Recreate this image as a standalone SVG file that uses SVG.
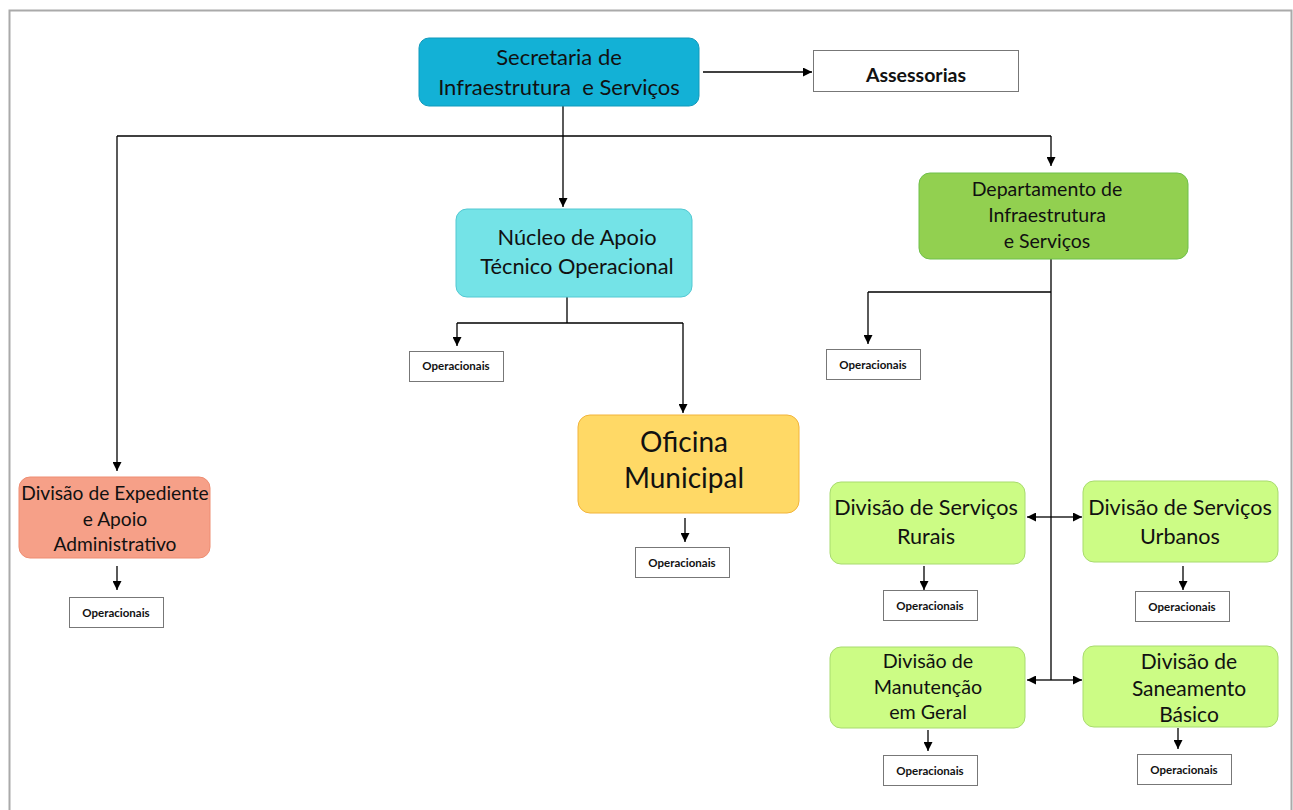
<svg xmlns="http://www.w3.org/2000/svg" width="1293" height="810" viewBox="0 0 1293 810">
<defs>
<marker id="ah" viewBox="0 0 10 10" refX="10" refY="5" markerWidth="9" markerHeight="9" markerUnits="userSpaceOnUse" orient="auto-start-reverse">
<path d="M0,0 L10,5 L0,10 z" fill="#000"/>
</marker>
<style>
.t{font-family:Lato,"Liberation Sans",sans-serif;fill:#111;text-anchor:middle}
.op rect{fill:#fff;stroke:#777;stroke-width:1}
.op text{font-family:Lato,"Liberation Sans",sans-serif;font-weight:bold;font-size:11.5px;fill:#111;text-anchor:middle}
.c{fill:none;stroke:#000;stroke-width:1.3}
.a{marker-end:url(#ah)}
.lg rect{fill:#CCFC85;stroke:#A8DB6E;stroke-width:1}
</style>
</defs>
<rect width="1293" height="810" fill="#fff"/>
<path d="M9.5,810 V10.5 H1291.5 V810" fill="none" stroke="#aaa" stroke-width="2"/>

<g id="connectors">
<path class="c a" d="M703,72 H812"/>
<path class="c" d="M563,106 V136"/>
<path class="c" d="M117,136 H1051"/>
<path class="c a" d="M563,136 V207"/>
<path class="c a" d="M117,136 V471"/>
<path class="c a" d="M1051,136 V166"/>
<path class="c" d="M567,297 V323 M457,323 H683"/>
<path class="c a" d="M457,323 V346"/>
<path class="c a" d="M683,323 V413"/>
<path class="c a" d="M685,518 V542"/>
<path class="c" d="M1051,259 V680 M868,292 H1051"/>
<path class="c a" d="M868,292 V344"/>
<path class="c a" d="M1051,517 H1027"/>
<path class="c a" d="M1051,517 H1082"/>
<path class="c a" d="M1051,680 H1027"/>
<path class="c a" d="M1051,680 H1082"/>
<path class="c a" d="M924,566 V590"/>
<path class="c a" d="M1183,566 V590"/>
<path class="c a" d="M928,730 V751"/>
<path class="c a" d="M1178,728 V749"/>
<path class="c a" d="M117,566 V590"/>
</g>

<g id="secretaria">
<rect x="419" y="38" width="280" height="68" rx="10" fill="#13B1D6" stroke="#1199BB"/>
<text class="t" font-size="22" x="559" y="65">Secretaria de</text>
<text class="t" font-size="22" x="559" y="95" xml:space="preserve">Infraestrutura  e Serviços</text>
</g>
<g id="assessorias">
<rect x="813.5" y="50.5" width="205" height="41" fill="#fff" stroke="#777"/>
<text class="t" font-size="19.5" font-weight="bold" x="916" y="82">Assessorias</text>
</g>

<g id="nucleo">
<rect x="456" y="209" width="236" height="88" rx="11" fill="#74E3E7" stroke="#52C8D2"/>
<text class="t" font-size="21.8" x="577" y="245">Núcleo de Apoio</text>
<text class="t" font-size="21.8" x="577" y="274">Técnico Operacional</text>
</g>
<g id="op-nucleo" class="op">
<rect x="409.5" y="351.5" width="94" height="30"/>
<text x="456" y="370">Operacionais</text>
</g>

<g id="oficina">
<rect x="578" y="415" width="221" height="98" rx="12" fill="#FFD966" stroke="#F2B43A"/>
<text class="t" font-size="28" x="684" y="452">Oficina</text>
<text class="t" font-size="28" x="684" y="488">Municipal</text>
</g>
<g id="op-oficina" class="op">
<rect x="635.5" y="547.5" width="94" height="30"/>
<text x="682" y="567">Operacionais</text>
</g>

<g id="departamento">
<rect x="919" y="173" width="269" height="86" rx="11" fill="#92D050" stroke="#6FC04A"/>
<text class="t" font-size="19.5" x="1047" y="196">Departamento de</text>
<text class="t" font-size="19.5" x="1047" y="222">Infraestrutura</text>
<text class="t" font-size="19.5" x="1047" y="248">e Serviços</text>
</g>
<g id="op-departamento" class="op">
<rect x="826.5" y="349.5" width="94" height="30"/>
<text x="873" y="369">Operacionais</text>
</g>

<g id="expediente">
<rect x="19" y="477" width="191" height="81" rx="11" fill="#F6A088" stroke="#EE8D72"/>
<text class="t" font-size="19.2" x="115" y="500">Divisão de Expediente</text>
<text class="t" font-size="19.2" x="115" y="526">e Apoio</text>
<text class="t" font-size="19.2" x="115" y="551">Administrativo</text>
</g>
<g id="op-expediente" class="op">
<rect x="69.5" y="597.5" width="94" height="30"/>
<text x="116" y="617">Operacionais</text>
</g>

<g id="rurais" class="lg">
<rect x="830" y="482" width="195" height="82" rx="11"/>
<text class="t" font-size="21.6" x="926" y="515">Divisão de Serviços</text>
<text class="t" font-size="21.6" x="926" y="544">Rurais</text>
</g>
<g id="op-rurais" class="op">
<rect x="883.5" y="590.5" width="94" height="30"/>
<text x="930" y="610">Operacionais</text>
</g>

<g id="urbanos" class="lg">
<rect x="1083" y="481" width="195" height="81" rx="11"/>
<text class="t" font-size="21.6" x="1180" y="515">Divisão de Serviços</text>
<text class="t" font-size="21.6" x="1180" y="544">Urbanos</text>
</g>
<g id="op-urbanos" class="op">
<rect x="1135.5" y="591.5" width="94" height="30"/>
<text x="1182" y="611">Operacionais</text>
</g>

<g id="manutencao" class="lg">
<rect x="830" y="647" width="195" height="81" rx="11"/>
<text class="t" font-size="19.7" x="928" y="668">Divisão de</text>
<text class="t" font-size="19.7" x="928" y="694">Manutenção</text>
<text class="t" font-size="19.7" x="928" y="719">em Geral</text>
</g>
<g id="op-manutencao" class="op">
<rect x="883.5" y="755.5" width="94" height="30"/>
<text x="930" y="775">Operacionais</text>
</g>

<g id="saneamento" class="lg">
<rect x="1083" y="646" width="195" height="81" rx="11"/>
<text class="t" font-size="21" x="1189" y="669">Divisão de</text>
<text class="t" font-size="21" x="1189" y="696">Saneamento</text>
<text class="t" font-size="21" x="1189" y="722">Básico</text>
</g>
<g id="op-saneamento" class="op">
<rect x="1137.5" y="754.5" width="94" height="30"/>
<text x="1184" y="774">Operacionais</text>
</g>
</svg>
